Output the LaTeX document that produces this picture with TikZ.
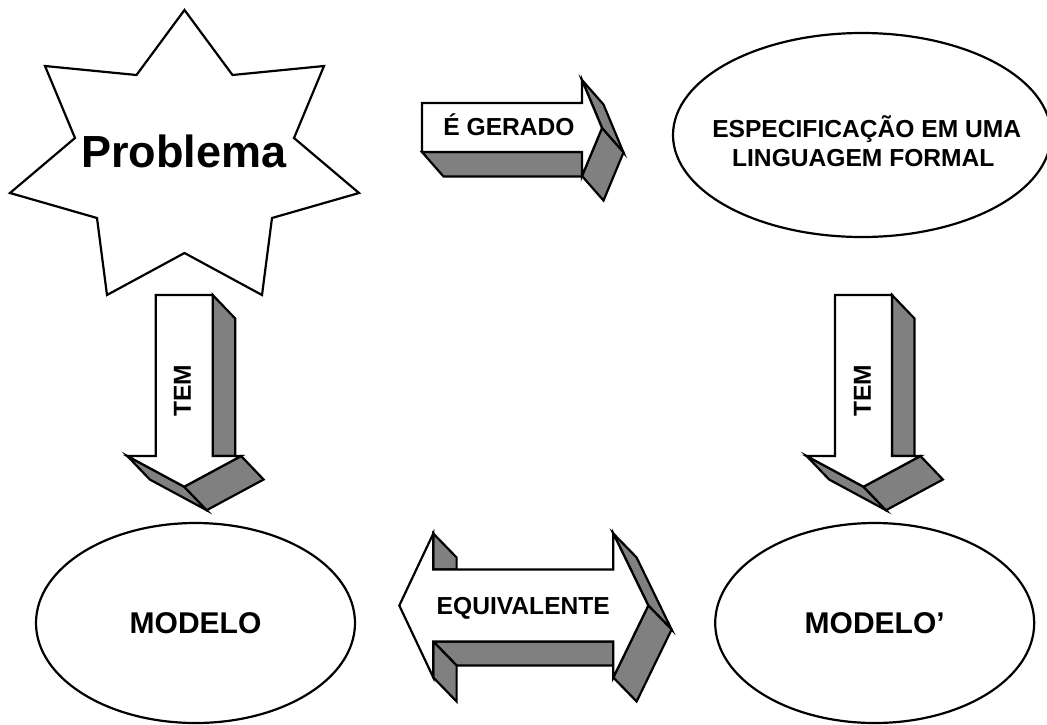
\documentclass[tikz,border=0pt]{standalone}
\usepackage{fontspec}
\setmainfont{Liberation Sans}
\usetikzlibrary{shapes.geometric}
\definecolor{shade}{HTML}{808080}
\begin{document}
\begin{tikzpicture}[x=1pt,y=-1pt,line width=2.2pt,
  face/.style={draw=black,fill=shade},
  front/.style={draw=black,fill=white},
  lbl/.style={font=\bfseries\fontsize{24.6}{29}\selectfont,inner sep=0pt},
  big/.style={font=\bfseries\fontsize{30}{36}\selectfont,inner sep=0pt},
  elli/.style={ellipse,draw=black,fill=white,inner sep=0pt}]
\useasboundingbox (0,0) rectangle (1047,724);

% star
\draw[front] (184.5,10) -- (232.5,75) -- (324,66) -- (294,138) -- (359,193)
  -- (272,218) -- (262,295) -- (184.5,253) -- (107,295) -- (97,218)
  -- (10,193) -- (75,138) -- (45,66) -- (136.5,75) -- cycle;
\node[font=\bfseries\fontsize{45}{54}\selectfont,inner sep=0pt,anchor=base] (problema) at (184,167) {Problema};

% ellipses
\node[elli,minimum width=378pt,minimum height=204pt] (spec) at (862,135) {};
\node[lbl,anchor=base] (spec1) at (866.7,137.3) {ESPECIFICAÇÃO EM UMA};
\node[lbl,anchor=base] (spec2) at (863.3,166.7) {LINGUAGEM FORMAL};
\node[elli,big,minimum width=319pt,minimum height=200pt] (modelo) at (195.5,623) {MODELO};
\node[elli,big,minimum width=319pt,minimum height=200pt] (modelo2) at (874.7,623) {MODELO’};

% arrow: E GERADO
\draw[face] (422,152) -- (582,152) -- (603.5,176.5) -- (443.5,176.5) -- cycle;
\draw[face] (582,80) -- (603.5,104.5) -- (623.5,152.5) -- (602,128) -- cycle;
\draw[face] (602,128) -- (623.5,152.5) -- (603.5,200.5) -- (582,176) -- cycle;
\draw[front] (422,103) -- (582,103) -- (582,80) -- (602,128) -- (582,176) -- (582,152) -- (422,152) -- cycle;
\node[lbl,anchor=base] (gerado) at (509,135) {É GERADO};

% arrow: TEM (left)
\draw[face] (212.7,295) -- (235.2,318.5) -- (235.2,456) -- (212.7,456) -- cycle;
\draw[face] (127.3,456) -- (149.8,479.5) -- (206.7,510.2) -- (184.2,486.7) -- cycle;
\draw[face] (184.2,486.7) -- (241.1,456) -- (263.6,479.5) -- (206.7,510.2) -- cycle;
\draw[front] (155.7,295) -- (212.7,295) -- (212.7,456) -- (241.1,456) -- (184.2,486.7) -- (127.3,456) -- (155.7,456) -- cycle;
\node[lbl,rotate=90] (tem1) at (182.5,390.7) {TEM};

% arrow: TEM (right)
\begin{scope}[xshift=679.3pt]
\draw[face] (212.7,295) -- (235.2,318.5) -- (235.2,456) -- (212.7,456) -- cycle;
\draw[face] (127.3,456) -- (149.8,479.5) -- (206.7,510.2) -- (184.2,486.7) -- cycle;
\draw[face] (184.2,486.7) -- (241.1,456) -- (263.6,479.5) -- (206.7,510.2) -- cycle;
\draw[front] (155.7,295) -- (212.7,295) -- (212.7,456) -- (241.1,456) -- (184.2,486.7) -- (127.3,456) -- (155.7,456) -- cycle;
\node[lbl,rotate=90] (tem2) at (183.2,390.7) {TEM};
\end{scope}

% arrow: EQUIVALENTE
\draw[face] (433.3,533.5) -- (456.6,557.5) -- (456.6,569.5) -- (433.3,569.5) -- cycle;
\draw[face] (433.3,641.5) -- (613.3,641.5) -- (636.6,665.5) -- (456.6,665.5) -- cycle;
\draw[face] (433.3,641.5) -- (456.6,665.5) -- (456.6,701.5) -- (433.3,677.5) -- cycle;
\draw[face] (613.3,533.5) -- (636.6,557.5) -- (671.6,629.5) -- (648.3,605.5) -- cycle;
\draw[face] (648.3,605.5) -- (671.6,629.5) -- (636.6,701.5) -- (613.3,677.5) -- cycle;
\draw[front] (399.3,605.5) -- (433.3,533.5) -- (433.3,569.5) -- (613.3,569.5) -- (613.3,533.5)
  -- (648.3,605.5) -- (613.3,677.5) -- (613.3,641.5) -- (433.3,641.5) -- (433.3,677.5) -- cycle;
\node[lbl,anchor=base] (equiv) at (523.3,614.3) {EQUIVALENTE};
\end{tikzpicture}
\end{document}
